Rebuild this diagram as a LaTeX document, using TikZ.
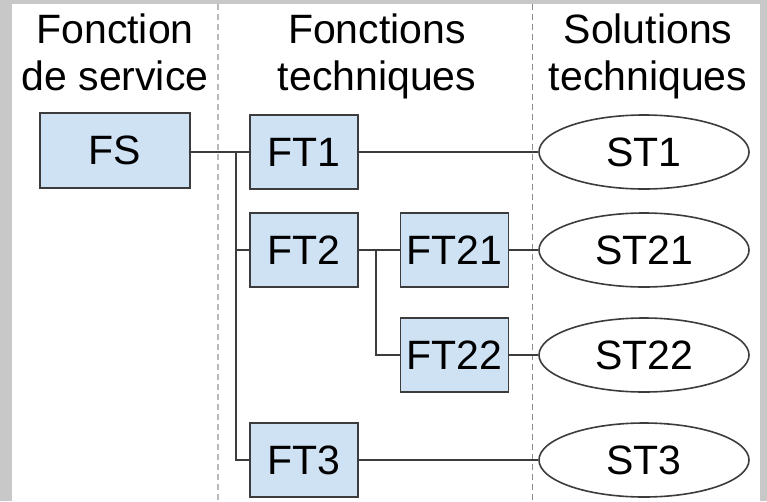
\documentclass[tikz,border=0pt]{standalone}
\usepackage{fontspec}
\setmainfont{Liberation Sans}
\usetikzlibrary{shapes.geometric}
\definecolor{boxfill}{RGB}{207,226,243}
\definecolor{edgegray}{RGB}{60,60,60}
\definecolor{framegray}{RGB}{200,200,200}
\begin{document}
\begin{tikzpicture}[x=1pt,y=-1pt,
  txt/.style={font=\fontsize{41}{47}\selectfont, inner sep=0pt},
  fbox/.style={draw=edgegray, line width=1.8pt, fill=boxfill, minimum width=108pt, minimum height=74pt, inner sep=0pt, font=\fontsize{41}{47}\selectfont},
  sol/.style={ellipse, draw=edgegray, line width=1.6pt, fill=white, minimum width=210pt, minimum height=74pt, inner sep=0pt, font=\fontsize{41}{47}\selectfont},
  link/.style={draw=edgegray, line width=1.6pt},
  sep/.style={dashed, dash pattern=on 6pt off 4pt}]
\fill[framegray] (0,0) rectangle (767,501);
\fill[white] (12,4) rectangle (760,501);
\useasboundingbox (0,0) rectangle (767,501);
% separators
\draw[sep, draw=gray!55, line width=2.2pt] (218,4) -- (218,501);
\draw[sep, draw=gray!90, line width=1pt] (532,4) -- (532,501);
% headers
\node[txt, anchor=base] (h1a) at (115,43) {Fonction};
\node[txt, anchor=base] (h1b) at (115,90) {de service};
\node[txt, anchor=base] (h2a) at (377,43) {Fonctions};
\node[txt, anchor=base] (h2b) at (377,90) {techniques};
\node[txt, anchor=base] (h3a) at (648,43) {Solutions};
\node[txt, anchor=base] (h3b) at (648,90) {techniques};
% boxes
\node[fbox, minimum width=150pt, minimum height=75pt] (FS) at (115,150.5) {FS};
\node[fbox] (FT1) at (304,152) {FT1};
\node[fbox] (FT2) at (304,250) {FT2};
\node[fbox] (FT21) at (454.5,250) {FT21};
\node[fbox] (FT22) at (454.5,355) {FT22};
\node[fbox] (FT3) at (304,460) {FT3};
% solutions
\node[sol] (ST1) at (644,152) {ST1};
\node[sol] (ST21) at (644,250) {ST21};
\node[sol] (ST22) at (644,355) {ST22};
\node[sol] (ST3) at (644,460) {ST3};
% bus coordinates
\coordinate (b1) at (236,152);
\coordinate (b3) at (236,460);
\coordinate (c1) at (376,250);
\coordinate (c2) at (376,355);
% connectors
\draw[link] (FS.east |- FT1.west) -- (FT1.west);
\draw[link] (b1) -- (b3) -- (FT3.west);
\draw[link] (b1 |- FT2.west) -- (FT2.west);
\draw[link] (FT2.east) -- (FT21.west);
\draw[link] (c1) -- (c2) -- (FT22.west);
\draw[link] (FT1.east) -- (ST1.west);
\draw[link] (FT21.east) -- (ST21.west);
\draw[link] (FT22.east) -- (ST22.west);
\draw[link] (FT3.east) -- (ST3.west);
\end{tikzpicture}
\end{document}
